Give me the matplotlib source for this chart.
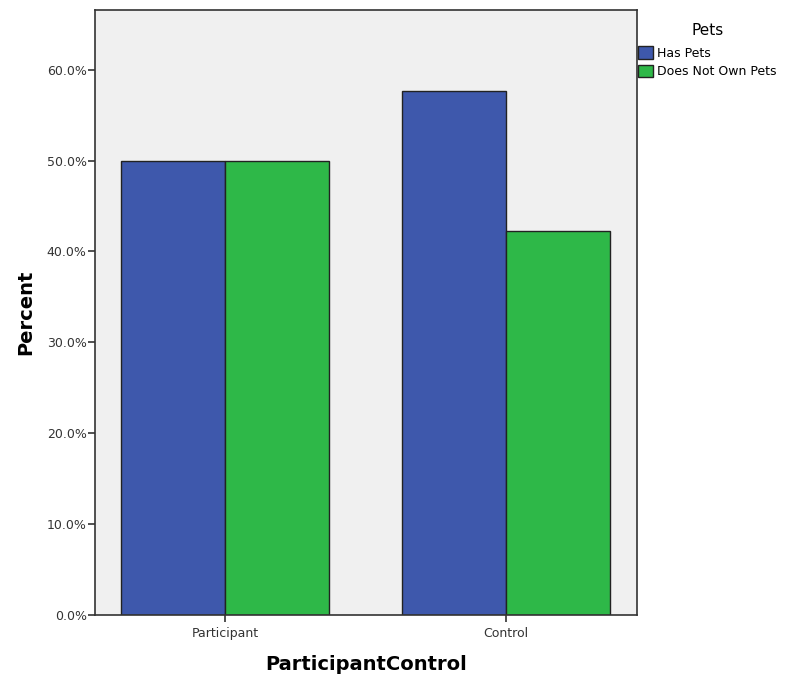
import numpy as np
import matplotlib
matplotlib.use("Agg")
import matplotlib.pyplot as plt
from matplotlib.ticker import FuncFormatter

groups = ["Participant", "Control"]
has_pets = [50.0, 57.7]
no_pets = [50.0, 42.3]
series_names = ["Has Pets", "Does Not Own Pets"]
yticks = [0, 10, 20, 30, 40, 50, 60]

plt.rcParams["font.family"] = ["DejaVu Sans"]

fig = plt.figure(figsize=(7.95, 6.81), dpi=100)
ax = fig.add_axes([0.1195, 0.0969, 0.6815, 0.8884])
ax.set_facecolor("#f0f0f0")

x = np.arange(len(groups))
w = 0.37
b1 = ax.bar(x - w / 2, has_pets, w, color="#3e58ac", edgecolor="#222222",
            linewidth=1.0, label=series_names[0])
b2 = ax.bar(x + w / 2, no_pets, w, color="#2eb848", edgecolor="#222222",
            linewidth=1.0, label=series_names[1])

ax.set_xlim(-0.463, 1.466)
ax.set_ylim(0, 66.56)
ax.set_yticks(yticks)
ax.yaxis.set_major_formatter(FuncFormatter(lambda v, p: f"{v:.1f}%"))
ax.set_xticks(x)
ax.set_xticklabels(groups)
ax.tick_params(axis="both", labelsize=9, colors="#333333", length=5, width=1.2)
ax.tick_params(axis="y", pad=1)
for s in ax.spines.values():
    s.set_color("#333333")
    s.set_linewidth(1.2)

ax.set_ylabel("Percent", fontsize=14, fontweight="bold", labelpad=8)
ax.set_xlabel("ParticipantControl", fontsize=14, fontweight="bold", labelpad=11)

leg = fig.legend(handles=[b1, b2], title="Pets", loc="upper left",
                 bbox_to_anchor=(0.803, 0.966), frameon=False, fontsize=9,
                 title_fontsize=11, handlelength=1.15, handleheight=1.15,
                 handletextpad=0.35, labelspacing=0.4, borderpad=0.0,
                 borderaxespad=0.0)
leg._legend_box.align = "center"
leg._legend_box.sep = 6

fig.savefig("out.png", dpi=100)
